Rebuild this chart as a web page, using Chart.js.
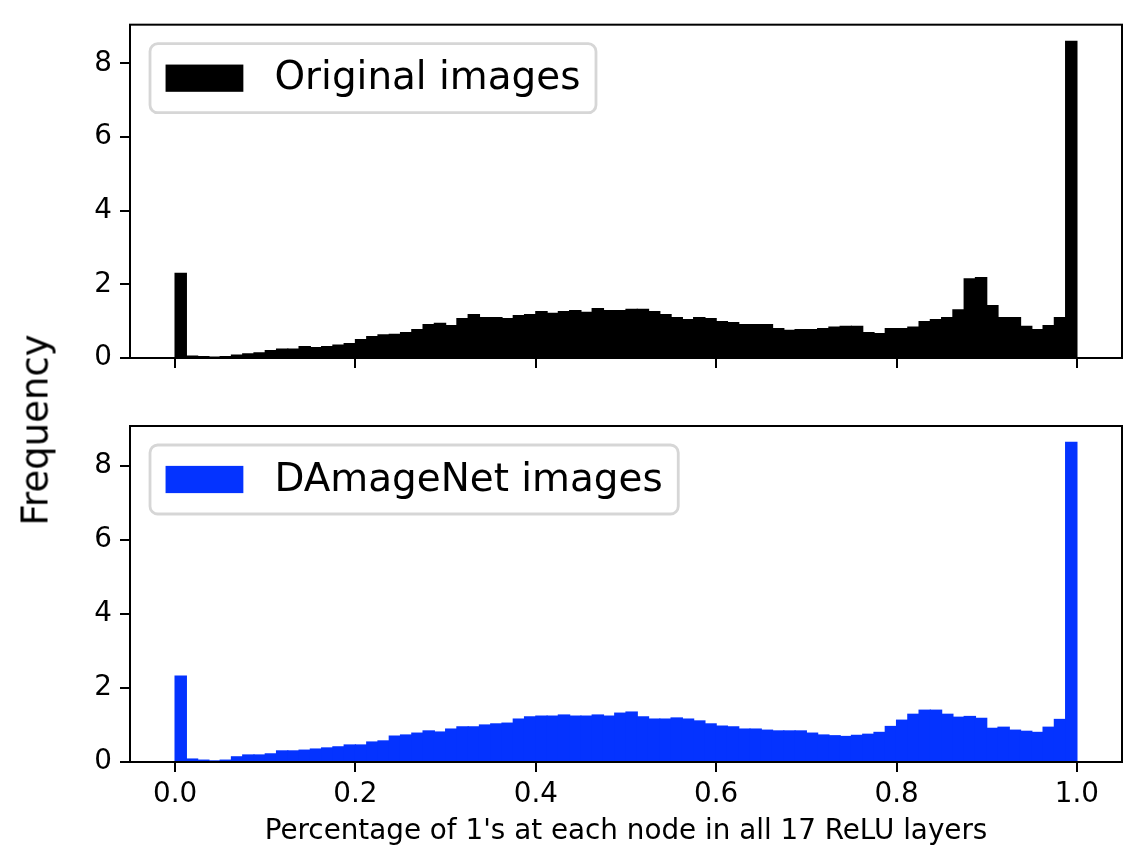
<!DOCTYPE html>
<html>
<head>
<meta charset="utf-8">
<script src="https://cdn.jsdelivr.net/npm/chart.js@4.4.0/dist/chart.umd.min.js"></script>
<style>
  body { margin: 0; background: #fff; }
  #wrap { position: relative; width: 1144px; height: 856px; background: #fff; overflow: hidden; }
  canvas { position: absolute; left: 0; }
  #topChart { top: 0; }
  #bottomChart { top: 400px; }
  #ylabel {
    position: absolute; left: 35px; top: 430px;
    font-family: 'DejaVu Sans'; font-size: 37px; color: #000;
    transform: translate(-50%, -50%) rotate(-90deg);
    white-space: nowrap;
  }
</style>
</head>
<body>
<div id="wrap">
  <canvas id="topChart" width="1144" height="400"></canvas>
  <canvas id="bottomChart" width="1144" height="456"></canvas>
  <div id="ylabel">Frequency</div>
</div>
<script>
// histogram bins: 80 bins over [0, 1]
const binStart = 0;
const binWidth = 0.0125;
const binCount = 80;

// bar heights (frequency density)
const originalValues = [
  2.30, 0.05, 0.04, 0.02, 0.04, 0.08, 0.11, 0.14, 0.20, 0.24,
  0.24, 0.31, 0.28, 0.31, 0.35, 0.39, 0.50, 0.58, 0.63, 0.64,
  0.69, 0.77, 0.91, 0.94, 0.88, 1.07, 1.18, 1.10, 1.10, 1.07,
  1.15, 1.18, 1.26, 1.21, 1.26, 1.29, 1.24, 1.34, 1.29, 1.29,
  1.32, 1.32, 1.26, 1.18, 1.10, 1.04, 1.10, 1.07, 0.99, 0.96,
  0.91, 0.91, 0.91, 0.80, 0.75, 0.77, 0.77, 0.80, 0.84, 0.86,
  0.86, 0.69, 0.66, 0.80, 0.80, 0.84, 0.99, 1.04, 1.10, 1.31,
  2.15, 2.18, 1.42, 1.10, 1.10, 0.86, 0.77, 0.88, 1.10, 8.60
];
const damagenetValues = [
  2.32, 0.08, 0.05, 0.03, 0.05, 0.14, 0.19, 0.19, 0.22, 0.30,
  0.30, 0.32, 0.35, 0.38, 0.41, 0.46, 0.46, 0.54, 0.57, 0.70,
  0.73, 0.78, 0.84, 0.81, 0.89, 0.95, 0.95, 1.00, 1.03, 1.05,
  1.16, 1.22, 1.24, 1.24, 1.27, 1.24, 1.24, 1.27, 1.24, 1.32,
  1.35, 1.22, 1.16, 1.16, 1.19, 1.16, 1.11, 1.03, 0.97, 0.95,
  0.89, 0.89, 0.86, 0.84, 0.84, 0.84, 0.78, 0.73, 0.71, 0.69,
  0.72, 0.75, 0.80, 0.96, 1.13, 1.29, 1.40, 1.40, 1.29, 1.21,
  1.23, 1.18, 0.91, 0.94, 0.86, 0.83, 0.80, 0.94, 1.15, 8.64
];

const xTicks = [0.0, 0.2, 0.4, 0.6, 0.8, 1.0];
const yTicks = [0, 2, 4, 6, 8];
const xTitle = "Percentage of 1's at each node in all 17 ReLU layers";

Chart.defaults.font.family = 'DejaVu Sans';
Chart.defaults.color = '#000';

const binCenters = [];
for (let i = 0; i < binCount; i++) {
    binCenters.push(binStart + binWidth * (i + 0.5));
}

// black frame around the plot area
const frameBox = {
    id: 'frameBox',
    afterDraw(chart) {
        const a = chart.chartArea;
        const ctx = chart.ctx;
        ctx.save();
        ctx.strokeStyle = '#000';
        ctx.lineWidth = 2;
        ctx.strokeRect(a.left, a.top, a.right - a.left, a.bottom - a.top);
        ctx.restore();
    }
};

// matplotlib-like legend inside the upper left corner
const legendBox = {
    id: 'legendBox',
    afterDatasetsDraw(chart, args, opts) {
        const ctx = chart.ctx;
        const a = chart.chartArea;
        const fs = 38.9;
        ctx.save();
        ctx.font = fs + 'px "DejaVu Sans"';
        const tw = ctx.measureText(opts.text).width;
        const x = a.left + 20;
        const y = a.top + 19;
        const pad = 0.4 * fs;
        const w = pad + 2 * fs + 0.8 * fs + tw + pad;
        const h = 69;
        ctx.beginPath();
        ctx.roundRect(x, y, w, h, 0.2 * fs);
        ctx.fillStyle = 'rgba(255,255,255,0.8)';
        ctx.fill();
        ctx.lineWidth = 2.8;
        ctx.strokeStyle = 'rgba(204,204,204,0.8)';
        ctx.stroke();
        const midY = y + h / 2;
        ctx.fillStyle = opts.color;
        ctx.fillRect(x + pad, midY - 0.35 * fs, 2 * fs, 0.7 * fs);
        ctx.fillStyle = '#000';
        ctx.textBaseline = 'middle';
        ctx.textAlign = 'left';
        ctx.fillText(opts.text, x + pad + 2.8 * fs, midY + 1);
        ctx.restore();
    }
};

function makeChart(id, values, color, label, yMax, padTop, xHeight, showXLabels) {
    const points = values.map((v, i) => ({ x: binCenters[i], y: v }));
    return new Chart(document.getElementById(id), {
        type: 'bar',
        data: {
            datasets: [{
                label: label,
                data: points,
                backgroundColor: color,
                borderWidth: 0,
                inflateAmount: 0.6,
                barPercentage: 1.0,
                categoryPercentage: 1.0
            }]
        },
        options: {
            responsive: false,
            animation: false,
            devicePixelRatio: 1,
            layout: { padding: { top: padTop, right: 22, left: 0, bottom: 0 } },
            plugins: {
                legend: { display: false },
                tooltip: { enabled: false },
                legendBox: { text: label, color: color }
            },
            scales: {
                x: {
                    type: 'linear',
                    min: -0.05,
                    max: 1.05,
                    offset: false,
                    border: { display: false },
                    grid: { offset: false, drawOnChartArea: false, drawTicks: true, tickLength: 10, color: '#000', lineWidth: 2 },
                    afterBuildTicks: s => { s.ticks = xTicks.map(v => ({ value: v })); },
                    afterFit: s => { s.height = xHeight; },
                    ticks: {
                        display: showXLabels,
                        maxRotation: 0,
                        padding: 6,
                        font: { size: 27.8 },
                        callback: v => v.toFixed(1)
                    },
                    title: {
                        display: showXLabels,
                        text: xTitle,
                        font: { size: 27.8 },
                        padding: { top: 0, bottom: 8 }
                    }
                },
                y: {
                    min: 0,
                    max: yMax,
                    border: { display: false },
                    grid: { drawOnChartArea: false, drawTicks: true, tickLength: 10, color: '#000', lineWidth: 2 },
                    afterBuildTicks: s => { s.ticks = yTicks.map(v => ({ value: v })); },
                    afterFit: s => { s.width = 130; },
                    ticks: {
                        padding: 8,
                        font: { size: 27.8 },
                        callback: v => String(v)
                    }
                }
            }
        },
        plugins: [frameBox, legendBox]
    });
}

makeChart('topChart', originalValues, '#000000', 'Original images', 9.05, 24, 42, false);
makeChart('bottomChart', damagenetValues, '#0433ff', 'DAmageNet images', 9.08, 26, 94, true);
</script>
</body>
</html>
